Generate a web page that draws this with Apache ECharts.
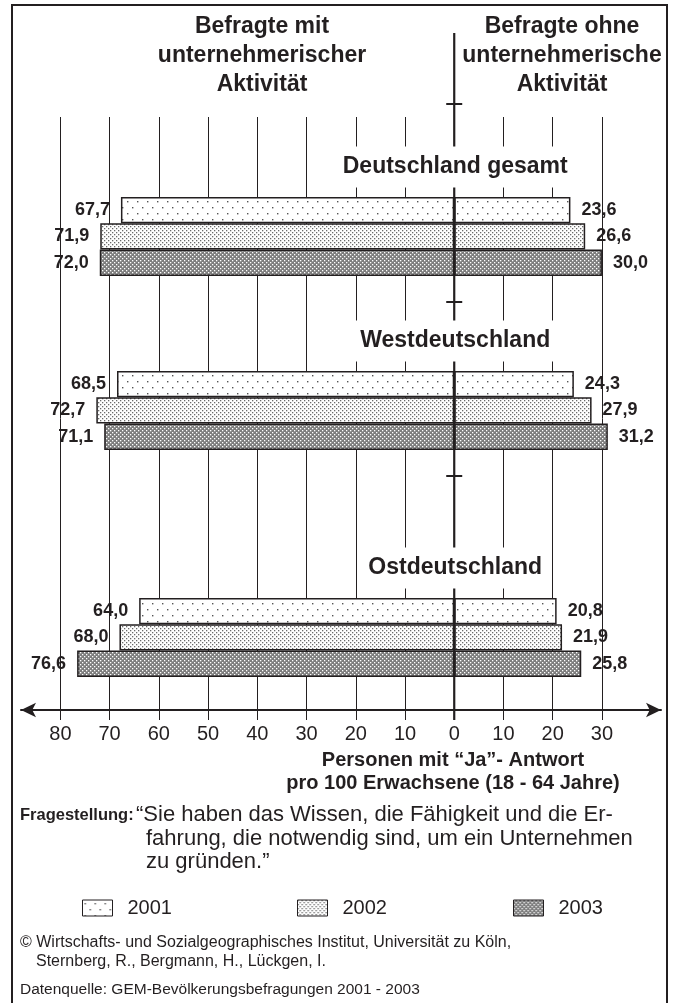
<!DOCTYPE html>
<html>
<head>
<meta charset="utf-8">
<script src="https://cdn.jsdelivr.net/npm/echarts@6/dist/echarts.min.js"></script>
<style>
html, body { margin: 0; padding: 0; background: #fff; }
#main { width: 677px; height: 1003px; }
</style>
</head>
<body>
<div id="main"></div>
<script>
var regions = ['Deutschland gesamt', 'Westdeutschland', 'Ostdeutschland'];
var years = ['2001', '2002', '2003'];
// Befragte mit unternehmerischer Aktivität (linke Seite)
var mitAktivitaet = [
    [67.7, 71.9, 72.0],
    [68.5, 72.7, 71.1],
    [64.0, 68.0, 76.6]
];
// Befragte ohne unternehmerische Aktivität (rechte Seite)
var ohneAktivitaet = [
    [23.6, 26.6, 30.0],
    [24.3, 27.9, 31.2],
    [20.8, 21.9, 25.8]
];

var FONT = '"Liberation Sans", Arial, sans-serif';
var INK = '#231f20';

// Achse: Pfeilspitzen links/rechts
var AX_MIN = -88, AX_MAX = 42, AX_L = 21, AX_R = 661;
function px(v) { return AX_L + (v - AX_MIN) * (AX_R - AX_L) / (AX_MAX - AX_MIN); }

var groupTop = [197, 371, 598];
var barBand = 26.3;

function makePattern(w, h, bg, dots, color, size) {
    var c = document.createElement('canvas');
    c.width = w; c.height = h;
    var ctx = c.getContext('2d');
    ctx.fillStyle = bg;
    ctx.fillRect(0, 0, w, h);
    ctx.fillStyle = color;
    dots.forEach(function (d) { ctx.fillRect(d[0], d[1], size, size); });
    return { image: c, repeat: 'repeat' };
}
var patterns = [
    makePattern(10, 12, '#ffffff', [[2, 3], [7, 9]], '#555', 1.4),
    makePattern(4, 4, '#ffffff', [[0, 0], [2, 2]], '#6a6a6a', 1.3),
    makePattern(4, 4, '#7d7d7d', [[0, 0], [2, 2]], '#ffffff', 1.3)
];

function fmt(p) {
    return Math.abs(p.value).toFixed(1).replace('.', ',');
}

var grids = [], xAxes = [], yAxes = [], series = [];

// Gitterlinien + Beschriftung
grids.push({ left: px(-80), right: 677 - px(30), top: 117, height: 603 });
xAxes.push({
    gridIndex: 0, type: 'value', min: -80, max: 30, interval: 10,
    axisLine: { show: false }, axisTick: { show: false },
    splitLine: { show: true, lineStyle: { color: INK, width: 1 } },
    axisLabel: {
        show: true, margin: 4, fontSize: 20, color: INK, fontFamily: FONT,
        formatter: function (v) { return String(Math.abs(v)); }
    }
});
yAxes.push({ gridIndex: 0, type: 'value', show: false });

// Achse mit Pfeilen
grids.push({ left: AX_L, right: 677 - AX_R, top: 700, height: 10 });
xAxes.push({
    gridIndex: 1, type: 'value', min: AX_MIN, max: AX_MAX,
    axisLine: { show: true, symbol: ['arrow', 'arrow'], symbolSize: [11, 15],
        lineStyle: { color: INK, width: 2 } },
    axisTick: { show: false }, axisLabel: { show: false }, splitLine: { show: false }
});
yAxes.push({ gridIndex: 1, type: 'value', show: false });

regions.forEach(function (reg, r) {
    var gi = grids.length;
    grids.push({ left: AX_L, right: 677 - AX_R, top: groupTop[r], height: barBand * 3 });
    xAxes.push({ gridIndex: gi, type: 'value', min: AX_MIN, max: AX_MAX, show: false });
    yAxes.push({ gridIndex: gi, type: 'category', data: years, inverse: true, show: false });
    years.forEach(function (yr, i) {
        [-1, 1].forEach(function (side) {
            var src = side < 0 ? mitAktivitaet : ohneAktivitaet;
            series.push({
                name: yr,
                type: 'bar',
                xAxisIndex: gi,
                yAxisIndex: gi,
                barWidth: '100%',
                barGap: '-100%',
                z: 3,
                data: years.map(function (_, j) { return j === i ? side * src[r][i] : '-'; }),
                itemStyle: { color: patterns[i], borderColor: INK, borderWidth: 1.5 },
                label: {
                    show: true,
                    position: side < 0 ? 'left' : 'right',
                    distance: 11,
                    formatter: fmt,
                    fontSize: 18, fontWeight: 'bold', color: INK, fontFamily: FONT
                }
            });
        });
    });
});

var graphics = [];
function txt(x, y, s, size, bold, align) {
    graphics.push({
        type: 'text', x: x, y: y, z: 50,
        style: {
            text: s, fill: INK, font: (bold ? 'bold ' : '') + size + 'px ' + FONT,
            textAlign: align || 'left', textVerticalAlign: 'middle'
        }
    });
}
// Rahmen
graphics.push({ type: 'rect', z: 40, shape: { x: 12, y: 5, width: 655, height: 1010 },
    style: { fill: 'none', stroke: INK, lineWidth: 2 } });
// Mittellinie mit Querstrichen
var x0 = px(0);
graphics.push({ type: 'line', z: 45, shape: { x1: x0, y1: 33, x2: x0, y2: 720 },
    style: { stroke: INK, lineWidth: 2.2 } });
[104, 302, 476].forEach(function (y) {
    graphics.push({ type: 'line', z: 45, shape: { x1: x0 - 8, y1: y, x2: x0 + 8, y2: y },
        style: { stroke: INK, lineWidth: 2 } });
});
// Ueberschriften
txt(262, 27, 'Befragte mit', 23, true, 'center');
txt(262, 56, 'unternehmerischer', 23, true, 'center');
txt(262, 85, 'Aktivität', 23, true, 'center');
txt(562, 27, 'Befragte ohne', 23, true, 'center');
txt(562, 56, 'unternehmerische', 23, true, 'center');
txt(562, 85, 'Aktivität', 23, true, 'center');
// Gruppentitel mit weissem Hintergrund
regions.forEach(function (reg, r) {
    graphics.push({
        type: 'text', x: x0 + 1, y: groupTop[r] - 30, z: 48,
        style: {
            text: reg, fill: INK, font: 'bold 23px ' + FONT,
            textAlign: 'center', textVerticalAlign: 'middle',
            backgroundColor: '#fff', padding: [9, 6]
        }
    });
});
// Achsentitel
txt(453, 760, 'Personen mit \u201cJa\u201d- Antwort', 20, true, 'center');
txt(453, 783, 'pro 100 Erwachsene (18 - 64 Jahre)', 20, true, 'center');
// Fragestellung
txt(20, 815, 'Fragestellung:', 16.5, true);
txt(136, 815, '\u201cSie haben das Wissen, die Fähigkeit und die Er-', 22, false);
txt(146, 839, 'fahrung, die notwendig sind, um ein Unternehmen', 22, false);
txt(146, 862, 'zu gründen.\u201d', 22, false);
// Quellen
txt(20, 943, '\u00a9 Wirtschafts- und Sozialgeographisches Institut, Universität zu Köln,', 16, false);
txt(36, 962, 'Sternberg, R., Bergmann, H., Lückgen, I.', 16, false);
txt(20, 990, 'Datenquelle: GEM-Bevölkerungsbefragungen 2001 - 2003', 15.5, false);

var legendLeft = [82, 297, 513];
var legends = years.map(function (yr, i) {
    return {
        data: [yr], left: legendLeft[i], top: 898, padding: 0,
        icon: 'rect', itemWidth: 30, itemHeight: 16,
        itemStyle: { borderColor: INK, borderWidth: 1 },
        selectedMode: false,
        textStyle: { fontSize: 20, color: INK, fontFamily: FONT, padding: [0, 0, 0, 10] }
    };
});

var myChart = echarts.init(document.getElementById('main'));
var option = {
    backgroundColor: '#fff',
    animation: false,
    legend: legends,
    grid: grids,
    xAxis: xAxes,
    yAxis: yAxes,
    series: series,
    graphic: graphics
};
myChart.setOption(option);
</script>
</body>
</html>
